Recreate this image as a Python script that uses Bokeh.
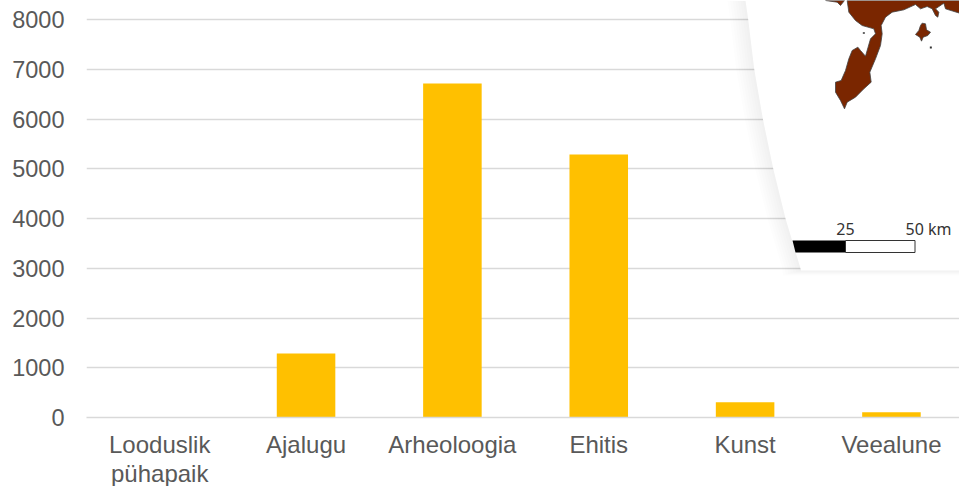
from bokeh.plotting import figure
from bokeh.models import Range1d, FixedTicker, ColumnDataSource
from bokeh.core.properties import value
from bokeh.embed import file_html
from bokeh.resources import INLINE

categories = ["Looduslik\npühapaik", "Ajalugu", "Arheoloogia", "Ehitis", "Kunst", "Veealune"]
values = [10, 1285, 6713, 5285, 305, 105]
y_ticks = [0, 1000, 2000, 3000, 4000, 5000, 6000, 7000, 8000]
scale_labels = ["25", "50 km"]

W, H = 959, 486
FONT = "Liberation Sans"
TEXT = "#595959"
GRID = "#D9D9D9"
STEP_X, STEP_Y = 146.35, 49.75
X0 = 159.2

positions = list(range(len(categories)))
source = ColumnDataSource(dict(x=positions, top=values))

p = figure(width=W, height=H, output_backend="svg", toolbar_location=None,
           x_range=Range1d((86 - X0) / STEP_X, (959 - X0) / STEP_X), y_range=Range1d(0, 417 / STEP_Y * 1000),
           frame_width=873, frame_height=417,
           min_border_left=86, min_border_right=0, min_border_top=0, min_border_bottom=69)
p.outline_line_color = None
p.background_fill_color = "white"
p.border_fill_color = "white"

p.xgrid.visible = False
p.ygrid.grid_line_color = GRID
p.ygrid.grid_line_width = 1.6
p.ygrid.ticker = FixedTicker(ticks=y_ticks)

p.yaxis.ticker = FixedTicker(ticks=y_ticks)
p.yaxis.axis_line_color = None
p.yaxis.major_tick_line_color = None
p.yaxis.minor_tick_line_color = None
p.yaxis.major_label_text_font = FONT
p.yaxis.major_label_text_font_size = "23.5px"
p.yaxis.major_label_text_color = TEXT
p.yaxis.major_label_standoff = 16

p.xaxis.ticker = FixedTicker(ticks=positions)
p.xaxis.major_label_overrides = {i: c for i, c in enumerate(categories)}
p.xaxis.axis_line_color = GRID
p.xaxis.axis_line_width = 1.6
p.xaxis.major_tick_line_color = None
p.xaxis.minor_tick_line_color = None
p.xaxis.major_label_text_font = FONT
p.xaxis.major_label_text_font_size = "24px"
p.xaxis.major_label_text_color = TEXT
p.xaxis.major_label_text_line_height = 1.1
p.xaxis.major_label_standoff = 7

p.vbar(x="x", top="top", bottom=0, width=0.4, source=source, fill_color="#FFC000", line_color=None)


# ---- inset map, pixel outlines converted to the axes' units ----
def dx(px):
    return (px - X0) / STEP_X


def dy(py):
    return (417 - py) / STEP_Y * 1000


def poly(pts, **kw):
    p.patch([dx(q[0]) for q in pts], [dy(q[1]) for q in pts], **kw)


def zoom_pts(pts):
    return [(820 + x / 3, y / 3) for x, y in pts]


curve = [(745, 0), (747.7, 19), (753.7, 68.5), (762.3, 118), (772.7, 168), (785, 218), (799.7, 267), (800.5, 270)]
for k in range(7, 0, -1):
    off = k * 2.6
    pts = [(x - off, y) for x, y in curve[:-1]] + [(curve[-1][0] - off, 270 + k * 0.7), (970, 270 + k * 0.7), (970, 0)]
    poly(pts, fill_color="black", fill_alpha=0.008, line_color=None)

poly(curve + [(970, 270), (970, 0)], fill_color="white", fill_alpha=1, line_color=None)

island = [(80, 0), (85, 35), (105, 60), (125, 75), (160, 85), (165, 100), (150, 115), (135, 167), (120, 150),
          (112, 140), (95, 150), (85, 175), (75, 210), (62, 240), (45, 245), (45, 275), (60, 300), (72, 325),
          (80, 305), (105, 290), (130, 265), (152, 245), (148, 215), (165, 175), (180, 135), (185, 100), (182, 75),
          (195, 50), (215, 35), (250, 28), (285, 12), (300, 25), (320, 18), (335, 25), (345, 45), (352, 50),
          (355, 35), (345, 25), (370, 8), (375, 25), (417, 38), (417, 0)]
fragment = [(15, 0), (50, 5), (60, 15), (72, 0)]
islet = [(305, 68), (315, 70), (318, 88), (330, 95), (322, 105), (308, 110), (303, 122), (298, 110), (285, 102),
         (295, 90), (300, 75)]
dot1 = [(328, 138), (334, 138), (334, 144), (328, 144)]
dot2 = [(127, 95), (133, 95), (133, 100), (127, 100)]
BROWN = "#7A2600"
for shape in (island, fragment, islet):
    poly(zoom_pts(shape), fill_color=BROWN, fill_alpha=1, line_color="#444444", line_width=1, line_alpha=0.8)
for shape in (dot1, dot2):
    poly(zoom_pts(shape), fill_color="#333333", fill_alpha=1, line_color=None)

# scale bar
poly([(792, 240), (845, 240), (845, 252), (795, 252)], fill_color="black", fill_alpha=1, line_color=None)
poly([(845, 240), (914.5, 240), (914.5, 252), (845, 252)], fill_color="white", fill_alpha=1,
     line_color="#333333", line_width=1)

for txt, x, anchor in zip(scale_labels, [845, 951], ["center", "right"]):
    p.text(x=[dx(x)], y=[dy(228.5)], text=[txt], text_font=value("Noto Sans"), text_font_size=value("16px"),
           text_color="#333333", text_align=anchor, text_baseline="alphabetic")

open("out.html", "w").write(file_html(p, INLINE))
